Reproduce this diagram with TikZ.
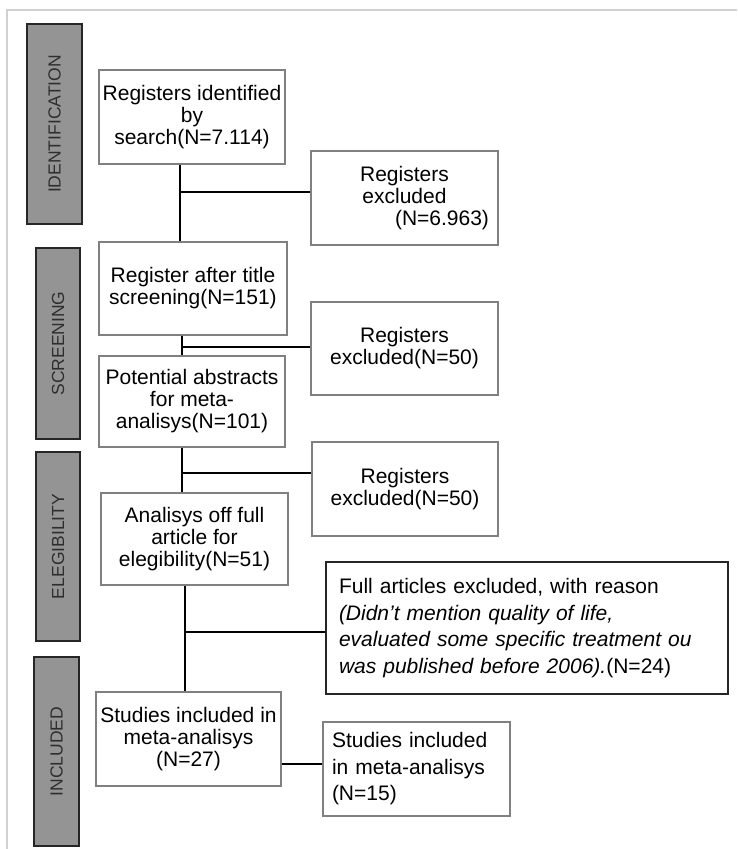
\documentclass[tikz,border=0pt]{standalone}
\usepackage{fontspec}
\setmainfont{Liberation Sans}

\begin{document}
\begin{tikzpicture}[x=1pt, y=-1pt,
  box/.style={draw=black!50, line width=1.2pt, fill=white, text=black, align=center, inner sep=0pt, font=\fontsize{21}{22}\selectfont},
  wide/.style={box, draw=black!85, line width=1.6pt, align=left, font=\fontsize{21}{26.5}\selectfont},
  phase/.style={draw=black!85, line width=1.5pt, fill=black!42, text=black!82, rotate=90, inner sep=0pt, font=\fontsize{17.5}{19}\selectfont},
  link/.style={black, line width=1.5pt}]
  \useasboundingbox (0,0) rectangle (737,849);
  \draw[black!18, line width=1.2pt] (7,849) -- (7,10) -- (737,10);
  \node[phase, minimum width=200pt, minimum height=55pt] (ident) at (54.5,124) {IDENTIFICATION};
  \node[phase, minimum width=191pt, minimum height=44pt] (screen) at (58,343.5) {SCREENING};
  \node[phase, minimum width=189pt, minimum height=44pt] (elig) at (58,546.5) {ELEGIBILITY};
  \node[phase, minimum width=189pt, minimum height=45pt] (incl) at (56.5,751.5) {INCLUDED};
  \node[box, minimum width=186pt, minimum height=94pt] (found) at (192,117) {Registers identified\\by\\search(N=7.114)};
  \node[box, minimum width=188pt, minimum height=93pt] (title) at (193,288.5) {Register after title\\screening(N=151)};
  \node[box, minimum width=186pt, minimum height=91pt] (abstr) at (192,401.5) {Potential abstracts\\for meta-\\analisys(N=101)};
  \node[box, minimum width=187pt, minimum height=92pt] (full) at (194.5,539) {Analisys off full\\article for\\elegibility(N=51)};
  \node[box, minimum width=185pt, minimum height=94pt] (meta) at (188.5,739) {Studies included in\\meta-analisys\\(N=27)};
  \node[box, minimum width=187pt, minimum height=94pt] (excla) at (404.5,198) {Registers\\excluded\hspace*{67pt}\\\hspace*{75pt}(N=6.963)};
  \node[box, minimum width=187pt, minimum height=93pt] (exclb) at (404.5,348.5) {Registers\\excluded(N=50)};
  \node[box, minimum width=186pt, minimum height=94pt] (exclc) at (405,489) {Registers\\excluded(N=50)};
  \node[wide, minimum width=402pt, minimum height=132pt, text width=376pt] (excld) at (527,628) {Full articles excluded, with reason\\\textit{(Didn't mention quality of life,}\\\textit{evaluated some specific treatment ou}\\\textit{was published before 2006).}(N=24)};
  \node[wide, draw=black!50, line width=1.2pt, minimum width=187pt, minimum height=94pt, text width=169pt] (final) at (416.5,769) {Studies included\\in meta-analisys\\(N=15)};
  \coordinate (ja) at (180,192);
  \coordinate (jb) at (182,347);
  \coordinate (jc) at (182,473);
  \coordinate (jd) at (185,632);
  \draw[link] (ja |- found.south) -- (ja |- title.north);
  \draw[link] (ja) -- (ja -| excla.west);
  \draw[link] (jb |- title.south) -- (jb |- abstr.north);
  \draw[link] (jb) -- (jb -| exclb.west);
  \draw[link] (jc |- abstr.south) -- (jc |- full.north);
  \draw[link] (jc) -- (jc -| exclc.west);
  \draw[link] (jd |- full.south) -- (jd |- meta.north);
  \draw[link] (jd) -- (jd -| excld.west);
  \draw[link] (meta.east |- 0,764) -- (final.west |- 0,764);
\end{tikzpicture}
\end{document}
